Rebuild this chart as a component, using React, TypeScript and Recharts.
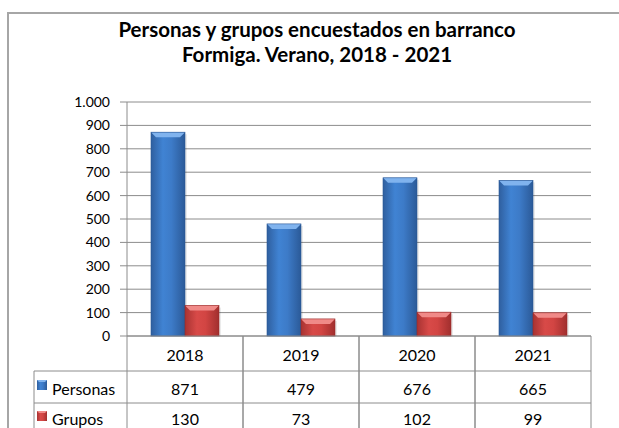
import React from "react";
import { BarChart, Bar, XAxis, YAxis, CartesianGrid } from "recharts";

const years = ["2018", "2019", "2020", "2021"];
const personas = [871, 479, 676, 665];
const grupos = [130, 73, 102, 99];
const yTicks = [0, 100, 200, 300, 400, 500, 600, 700, 800, 900, 1000];

const seriesNames = ["Personas", "Grupos"];

const CHART_W = 619;
const CHART_H = 428;
const PLOT_LEFT = 127;
const PLOT_RIGHT = 591;
const PLOT_TOP = 102;
const XAXIS_H = 92;
const PLOT_BOTTOM = CHART_H - XAXIS_H;
const ROW_HEAD_LEFT = 34;
const ROW1 = PLOT_BOTTOM + 35;
const ROW2 = ROW1 + 32;
const LINE = "#8c8c8c";
const FONT = "Lato, 'Open Sans', sans-serif";

const data = years.map((y, i) => ({ year: y, personas: personas[i], grupos: grupos[i] }));

const fmt = (v: number) => String(v).replace(/\B(?=(\d{3})+(?!\d))/g, ".");

// bar with a bevelled top, like the old Excel 3D look
const makeShape = (grad: string, top: string, edge: string) => (props: any) => {
  const { x, y, width, height } = props;
  if (!height || height <= 0) return null;
  const b = Math.min(5, height / 2);
  return (
    <g>
      <rect x={x + 2} y={y + 2} width={width} height={height - 2} fill="#000" opacity={0.08} />
      <rect x={x} y={y} width={width} height={height} fill={`url(#${grad})`} />
      <polygon
        points={`${x},${y} ${x + width},${y} ${x + width - b},${y + b} ${x + b},${y + b}`}
        fill={top}
      />
      <rect x={x} y={y} width={width} height={height} fill="none" stroke={edge} strokeWidth={0.6} />
    </g>
  );
};

const BlueBar = makeShape("gBlue", "#80b3ee", "#2a5795");
const RedBar = makeShape("gRed", "#f08a88", "#9a2b2a");

const LegendKey = ({ x, y, grad, top }: { x: number; y: number; grad: string; top: string }) => (
  <g>
    <rect x={x} y={y} width={10} height={10} fill={`url(#${grad})`} />
    <polygon points={`${x},${y} ${x + 10},${y} ${x + 8},${y + 2} ${x + 2},${y + 2}`} fill={top} />
  </g>
);

// x axis tick draws the data table column for its category
const TableTick = (props: any) => {
  const { x, index } = props;
  const bw = (PLOT_RIGHT - PLOT_LEFT) / years.length;
  const left = x - bw / 2;
  const right = x + bw / 2;
  return (
    <g fontFamily={FONT} fontSize={16} fill="#000">
      <line x1={left} y1={PLOT_BOTTOM} x2={left} y2={CHART_H} stroke={LINE} />
      <line x1={right} y1={PLOT_BOTTOM} x2={right} y2={CHART_H} stroke={LINE} />
      <line x1={left} y1={ROW1} x2={right} y2={ROW1} stroke={LINE} />
      <line x1={left} y1={ROW2} x2={right} y2={ROW2} stroke={LINE} />
      <text x={x} y={(PLOT_BOTTOM + ROW1) / 2 + 1} textAnchor="middle" dominantBaseline="central">
        {years[index]}
      </text>
      <text x={x} y={(ROW1 + ROW2) / 2 + 1} textAnchor="middle" dominantBaseline="central">
        {personas[index]}
      </text>
      <text x={x} y={ROW2 + 15} textAnchor="middle" dominantBaseline="central">
        {grupos[index]}
      </text>
      {index === 0 && (
        <g>
          <line x1={ROW_HEAD_LEFT} y1={ROW1} x2={left} y2={ROW1} stroke={LINE} />
          <line x1={ROW_HEAD_LEFT} y1={ROW2} x2={left} y2={ROW2} stroke={LINE} />
          <line x1={ROW_HEAD_LEFT} y1={ROW1} x2={ROW_HEAD_LEFT} y2={CHART_H} stroke={LINE} />
          <LegendKey x={37} y={(ROW1 + ROW2) / 2 - 7} grad="gBlue" top="#80b3ee" />
          <text x={52} y={(ROW1 + ROW2) / 2 + 1} dominantBaseline="central">{seriesNames[0]}</text>
          <LegendKey x={37} y={ROW2 + 8} grad="gRed" top="#f08a88" />
          <text x={52} y={ROW2 + 15} dominantBaseline="central">{seriesNames[1]}</text>
        </g>
      )}
    </g>
  );
};

export default function App() {
  return (
    <div style={{ position: "absolute", left: 0, top: 0, width: CHART_W, height: CHART_H, background: "#fff", overflow: "hidden" }}>
      <div
        style={{
          position: "absolute",
          left: 7,
          top: 12,
          width: CHART_W,
          height: CHART_H,
          borderTop: "2px solid #a6a6a6",
          borderLeft: "2px solid #a6a6a6",
        }}
      />
      <div
        style={{
          position: "absolute",
          left: 7,
          top: 17,
          width: 620,
          textAlign: "center",
          fontFamily: FONT,
          fontWeight: 700,
          fontSize: 20.5,
          lineHeight: "25px",
          color: "#000",
        }}
      >
        Personas y grupos encuestados en barranco
        <br />
        Formiga. Verano, 2018 - 2021
      </div>
      <div style={{ position: "absolute", left: 0, top: 0 }}>
        <BarChart
          width={CHART_W}
          height={CHART_H}
          data={data}
          margin={{ top: PLOT_TOP, right: CHART_W - PLOT_RIGHT, bottom: 0, left: 0 }}
          barCategoryGap={24}
          barGap={0}
        >
          <defs>
            <linearGradient id="gBlue" x1="0" y1="0" x2="1" y2="0">
              <stop offset="0%" stopColor="#2f5f9f" />
              <stop offset="35%" stopColor="#4083d3" />
              <stop offset="60%" stopColor="#3d7bc8" />
              <stop offset="100%" stopColor="#2b5a98" />
            </linearGradient>
            <linearGradient id="gRed" x1="0" y1="0" x2="1" y2="0">
              <stop offset="0%" stopColor="#a83332" />
              <stop offset="35%" stopColor="#d84a48" />
              <stop offset="60%" stopColor="#d24543" />
              <stop offset="100%" stopColor="#a12f2e" />
            </linearGradient>
          </defs>
          <CartesianGrid vertical={false} stroke={LINE} strokeWidth={1} />
          <XAxis
            dataKey="year"
            height={XAXIS_H}
            axisLine={{ stroke: LINE }}
            tickLine={false}
            tick={<TableTick />}
            interval={0}
          />
          <YAxis
            width={PLOT_LEFT}
            domain={[0, 1000]}
            ticks={yTicks}
            tickFormatter={fmt}
            axisLine={{ stroke: LINE }}
            tickLine={{ stroke: LINE }}
            tickSize={7}
            tickMargin={10}
            tick={{ fill: "#000", fontSize: 14, fontFamily: FONT }}
            interval={0}
          />
          <Bar dataKey="personas" barSize={34} shape={BlueBar} isAnimationActive={false} />
          <Bar dataKey="grupos" barSize={34} shape={RedBar} isAnimationActive={false} />
        </BarChart>
      </div>
    </div>
  );
}
